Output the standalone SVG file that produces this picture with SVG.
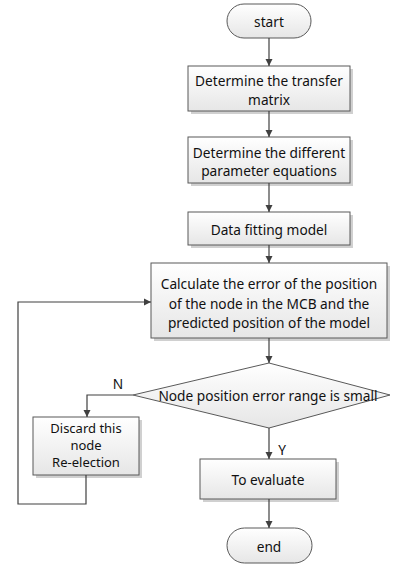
<svg xmlns="http://www.w3.org/2000/svg" width="400" height="567" viewBox="0 0 400 567">
<defs>
<linearGradient id="g" x1="0" y1="0" x2="0" y2="1">
<stop offset="0" stop-color="#ffffff"/>
<stop offset="1" stop-color="#e6e6e6"/>
</linearGradient>
<marker id="ah" markerWidth="8" markerHeight="8" refX="7" refY="4" orient="auto" markerUnits="userSpaceOnUse">
<path d="M0,0.5 L7,4 L0,7.5 Z" fill="#404040"/>
</marker>
</defs>
<style>
.box{fill:url(#g);stroke:#595959;stroke-width:1}
.sh{fill:#d0d0d0}
.t{font-family:"Noto Sans","Open Sans",sans-serif;font-size:13.7px;fill:#111;text-anchor:middle;dominant-baseline:central}
.s{font-size:13px}
.c{fill:none;stroke:#404040;stroke-width:1.2;marker-end:url(#ah)}
</style>
<rect width="400" height="567" fill="#fff"/>
<g id="start">
<rect x="227" y="4" width="84" height="34" rx="17" class="box"/>
<text class="t" x="269" y="21">start</text>
</g>
<g id="n1">
<rect x="191" y="69" width="162" height="45" class="sh"/>
<rect x="188" y="66" width="162" height="45" class="box"/>
<text class="t" x="269" y="80">Determine the transfer</text>
<text class="t" x="269" y="99">matrix</text>
</g>
<g id="n2">
<rect x="191" y="140" width="162" height="46" class="sh"/>
<rect x="188" y="137" width="162" height="46" class="box"/>
<text class="t" x="269" y="152">Determine the different</text>
<text class="t" x="269" y="170">parameter equations</text>
</g>
<g id="n3">
<rect x="191" y="215" width="162" height="33" class="sh"/>
<rect x="188" y="212" width="162" height="33" class="box"/>
<text class="t" x="269" y="229">Data fitting model</text>
</g>
<g id="n4">
<rect x="154" y="266" width="236" height="75" class="sh"/>
<rect x="151" y="263" width="236" height="75" class="box"/>
<text class="t" x="269" y="283">Calculate the error of the position</text>
<text class="t" x="269" y="303">of the node in the MCB and the</text>
<text class="t" x="269" y="322">predicted position of the model</text>
</g>
<g id="d1">
<polygon points="269,363 390,395 269,428 133,395" class="box"/>
<text class="t" x="268" y="395">Node position error range is small</text>
</g>
<g id="n5">
<rect x="36" y="420" width="106" height="58" class="sh"/>
<rect x="33" y="417" width="106" height="58" class="box"/>
<text class="t s" x="86" y="428">Discard this</text>
<text class="t s" x="86" y="445">node</text>
<text class="t s" x="86" y="462">Re-election</text>
</g>
<g id="n6">
<rect x="203" y="462" width="136" height="40" class="sh"/>
<rect x="200" y="459" width="136" height="40" class="box"/>
<text class="t" x="268" y="479">To evaluate</text>
</g>
<g id="end">
<rect x="227" y="528" width="85" height="35" rx="17.5" class="box"/>
<text class="t" x="269" y="546">end</text>
</g>
<g id="connectors">
<path class="c" d="M269,38 V66"/>
<path class="c" d="M269,111 V137"/>
<path class="c" d="M269,183 V212"/>
<path class="c" d="M269,245 V263"/>
<path class="c" d="M269,338 V363"/>
<path class="c" d="M133,395 H87 V417"/>
<path class="c" d="M269,428 V459"/>
<path class="c" d="M269,499 V528"/>
<path class="c" d="M86,475 V504 H18 V302 H151"/>
<text class="t" x="118" y="383">N</text>
<text class="t" x="282" y="449">Y</text>
</g>
</svg>
